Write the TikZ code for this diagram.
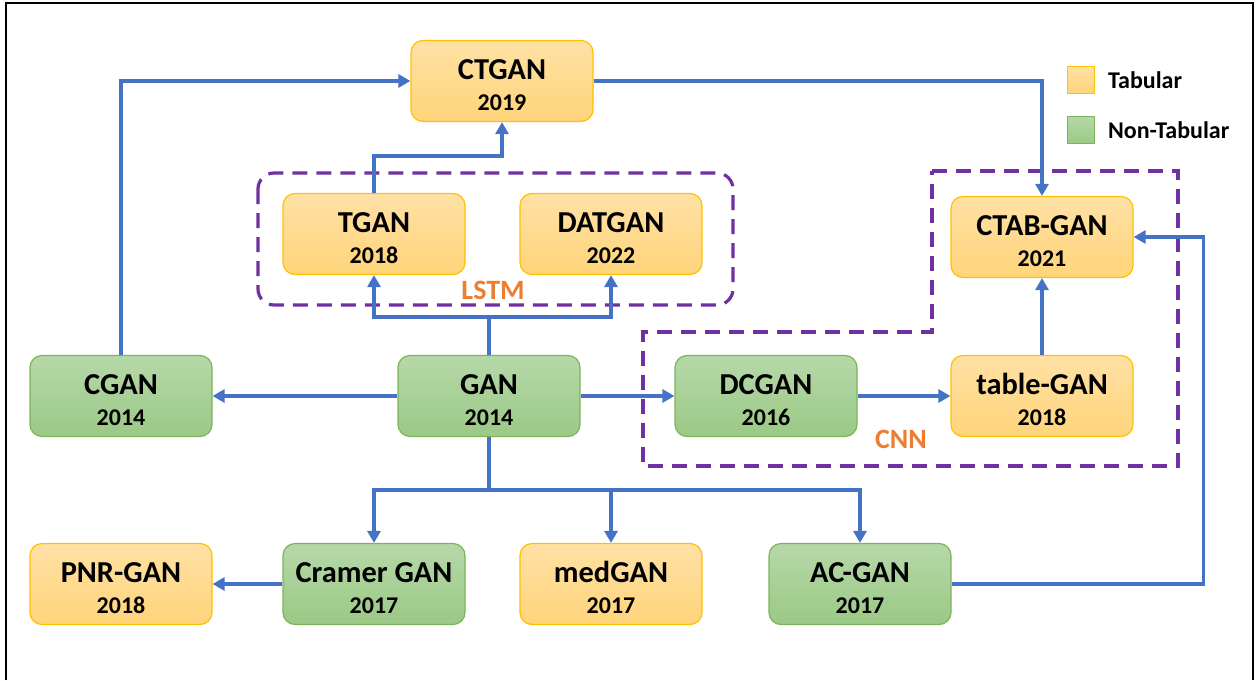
\documentclass[tikz,border=0pt]{standalone}
\usepackage{fontspec}
\setmainfont{Carlito}
\usetikzlibrary{arrows.meta}
\definecolor{TabTop}{HTML}{FFE1A5}
\definecolor{TabBot}{HTML}{FFD47A}
\definecolor{TabEdge}{HTML}{FFC000}
\definecolor{NtTop}{HTML}{B6D8A9}
\definecolor{NtBot}{HTML}{9BC985}
\definecolor{NtEdge}{HTML}{7DB35A}
\definecolor{LinkBlue}{HTML}{4472C4}
\definecolor{GrpPurple}{HTML}{7030A0}
\definecolor{LblOrange}{HTML}{ED7D31}
\newcommand{\gan}[2]{\rule{0pt}{14.5pt}#1\\{\fontsize{12}{15.5}\selectfont #2}}

\begin{document}
\begin{tikzpicture}[x=0.5pt, y=-0.5pt,
	box/.style={rounded corners=6pt, minimum width=91pt, minimum height=40.5pt, align=center, line width=0.6pt, font=\bfseries\fontsize{15.2}{15.5}\selectfont},
	tab/.style={box, draw=TabEdge, top color=TabTop, bottom color=TabBot},
	nontab/.style={box, draw=NtEdge, top color=NtTop, bottom color=NtBot},
	key/.style={minimum size=13.5pt, inner sep=0pt, line width=0.6pt},
	keytext/.style={anchor=west, font=\bfseries\fontsize{12}{14}\selectfont},
	link/.style={draw=LinkBlue, line width=1.7pt, -{Triangle[length=6pt,width=6.5pt]}},
	grp/.style={draw=GrpPurple, line width=1.6pt, dash pattern=on 7.5pt off 4.5pt},
	lbl/.style={text=LblOrange, font=\bfseries\fontsize{14}{16}\selectfont}]
	\useasboundingbox (0,0) rectangle (1257,680);
	\draw[line width=1pt] (6,680) -- (6,3) -- (1253,3) -- (1253,680);
	\draw[grp, rounded corners=8pt] (258,173) rectangle (733,305);
	\draw[grp] (932,171) -- (1178,171) -- (1178,466) -- (643,466) -- (643,332) -- (932,332) -- cycle;
	\node[lbl] (lstm) at (493,290) {LSTM};
	\node[lbl] (cnn) at (901,439) {CNN};
	\node[tab] (ctgan) at (502,81) {\gan{CTGAN}{2019}};
	\node[tab] (tgan) at (374,234) {\gan{TGAN}{2018}};
	\node[tab] (datgan) at (611,234) {\gan{DATGAN}{2022}};
	\node[tab] (ctab) at (1042,237) {\gan{CTAB-GAN}{2021}};
	\node[nontab] (cgan) at (121,396) {\gan{CGAN}{2014}};
	\node[nontab] (gan) at (489,396) {\gan{GAN}{2014}};
	\node[nontab] (dcgan) at (766,396) {\gan{DCGAN}{2016}};
	\node[tab] (tblgan) at (1042,396) {\gan{table-GAN}{2018}};
	\node[tab] (pnrgan) at (121,584) {\gan{PNR-GAN}{2018}};
	\node[nontab] (cramer) at (374,584) {\gan{Cramer GAN}{2017}};
	\node[tab] (medgan) at (611,584) {\gan{medGAN}{2017}};
	\node[nontab] (acgan) at (860,584) {\gan{AC-GAN}{2017}};
	\node[key, draw=TabEdge, top color=TabTop, bottom color=TabBot] (keytab) at (1081,80) {};
	\node[keytext] (keytabtxt) at (1101,80) {Tabular};
	\node[key, draw=NtEdge, top color=NtTop, bottom color=NtBot] (keynt) at (1081,130) {};
	\node[keytext] (keynttxt) at (1101,130) {Non-Tabular};
	\coordinate (lstmbus) at (489,317);
	\coordinate (lowbus) at (489,490);
	\draw[link] (cgan.north) |- (ctgan.west);
	\draw[link] (tgan.north) -- ++(0,-37) -| (ctgan.south);
	\draw[link] (ctgan.east) -| (ctab.north);
	\draw[link] (gan.north) -- (lstmbus) -| (tgan.south);
	\draw[link] (lstmbus) -| (datgan.south);
	\draw[link] (gan.west) -- (cgan.east);
	\draw[link] (gan.east) -- (dcgan.west);
	\draw[link] (dcgan.east) -- (tblgan.west);
	\draw[link] (tblgan.north) -- (ctab.south);
	\draw[link] (gan.south) -- (lowbus) -| (cramer.north);
	\draw[link] (lowbus) -| (medgan.north);
	\draw[link] (lowbus) -| (acgan.north);
	\draw[link] (cramer.west) -- (pnrgan.east);
	\draw[link] (acgan.east) -- ++(252,0) |- (ctab.east);
\end{tikzpicture}
\end{document}
